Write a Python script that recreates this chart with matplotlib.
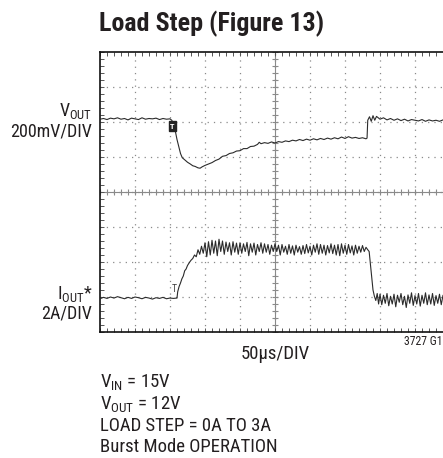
import matplotlib
matplotlib.use("Agg")
import matplotlib.pyplot as plt
import numpy as np

# ---------------- data (scope divisions: x 0..10, y 0..8) ----------------
vout_t = [0.0, 0.1, 0.2, 0.3, 0.4, 0.5, 0.6, 0.7, 0.8, 0.9, 1.0, 1.1, 1.2, 1.3, 1.4, 1.5,
          1.6, 1.7, 1.8, 1.9, 2.0, 2.05, 2.1, 2.15, 2.2, 2.25, 2.3, 2.35, 2.42, 2.5, 2.58,
          2.65, 2.72, 2.8, 2.86, 2.92, 3.0, 3.1, 3.2, 3.3, 3.4, 3.5, 3.6, 3.7, 3.8, 3.9,
          4.0, 4.1, 4.2, 4.3, 4.4, 4.5, 4.55, 4.6, 4.7, 4.8, 4.9, 5.0, 5.1, 5.2, 5.3, 5.4,
          5.5, 5.6, 5.7, 5.8, 5.9, 6.0, 6.1, 6.2, 6.3, 6.4, 6.5, 6.6, 6.7, 6.8, 6.9, 7.0,
          7.1, 7.2, 7.3, 7.4, 7.5, 7.6, 7.63, 7.65, 7.7, 7.75, 7.8, 7.85, 7.9, 8.0, 8.1,
          8.2, 8.3, 8.4, 8.5, 8.6, 8.7, 8.8, 8.9, 9.0, 9.1, 9.2, 9.3, 9.4, 9.5, 9.6, 9.7,
          9.8, 9.9, 10.0]
vout_v = [6.08, 6.10, 6.07, 6.11, 6.09, 6.12, 6.08, 6.10, 6.06, 6.11, 6.09, 6.07, 6.12,
          6.08, 6.10, 6.09, 6.11, 6.07, 6.10, 6.08, 6.09, 6.05, 5.95, 5.75, 5.50, 5.30,
          5.10, 4.98, 4.92, 4.85, 4.80, 4.75, 4.73, 4.69, 4.68, 4.72, 4.76, 4.80, 4.84,
          4.90, 4.94, 5.02, 5.04, 5.10, 5.12, 5.17, 5.18, 5.24, 5.24, 5.30, 5.31, 5.36,
          5.42, 5.38, 5.41, 5.39, 5.43, 5.40, 5.44, 5.42, 5.46, 5.44, 5.48, 5.46, 5.50,
          5.47, 5.51, 5.48, 5.52, 5.49, 5.53, 5.50, 5.54, 5.51, 5.55, 5.52, 5.57, 5.53,
          5.58, 5.54, 5.56, 5.53, 5.55, 5.52, 5.54, 6.05, 6.15, 6.02, 6.18, 6.05, 6.16,
          6.08, 6.12, 6.06, 6.10, 6.05, 6.09, 6.04, 6.08, 6.03, 6.07, 6.05, 6.03, 6.07,
          6.02, 6.06, 6.03, 6.05, 6.02, 6.06, 6.03, 6.05]

iout_t = [0.0, 0.1, 0.2, 0.3, 0.4, 0.5, 0.6, 0.7, 0.8, 0.9, 1.0, 1.1, 1.2, 1.3, 1.4, 1.5,
          1.6, 1.7, 1.8, 1.9, 2.0, 2.1, 2.2, 2.22, 2.26, 2.30, 2.34, 2.38, 2.42, 2.46,
          2.50, 2.55, 2.60, 2.65, 2.70, 2.75, 2.80, 2.85, 2.90, 2.95,
          3.00, 3.05, 3.10, 3.15, 3.20, 3.25, 3.30, 3.35, 3.40, 3.45, 3.50, 3.55, 3.60,
          3.65, 3.70, 3.75, 3.80, 3.85, 3.90, 3.95, 4.00, 4.05, 4.10, 4.15, 4.20, 4.25,
          4.30, 4.35, 4.40, 4.45, 4.50, 4.55, 4.60, 4.65, 4.70, 4.75, 4.80, 4.85, 4.90,
          4.95, 5.00, 5.05, 5.10, 5.15, 5.20, 5.25, 5.30, 5.35, 5.40, 5.45, 5.50, 5.55,
          5.60, 5.65, 5.70, 5.75, 5.80, 5.85, 5.90, 5.95, 6.00, 6.05, 6.10, 6.15, 6.20,
          6.25, 6.30, 6.35, 6.40, 6.45, 6.50, 6.55, 6.60, 6.65, 6.70, 6.75, 6.80, 6.85,
          6.90, 6.95, 7.00, 7.05, 7.10, 7.15, 7.20, 7.25, 7.30, 7.35, 7.40, 7.45, 7.50,
          7.55, 7.60, 7.65, 7.69, 7.72, 7.76, 7.80, 7.84, 7.88, 7.92, 7.96, 8.00, 8.05,
          8.10, 8.15, 8.20, 8.25, 8.30, 8.35, 8.40, 8.45, 8.50, 8.55, 8.60, 8.65, 8.70,
          8.75, 8.80, 8.85, 8.90, 8.95, 9.00, 9.05, 9.10, 9.15, 9.20, 9.25, 9.30, 9.35,
          9.40, 9.45, 9.50, 9.55, 9.60, 9.65, 9.70, 9.75, 9.80, 9.85, 9.90, 9.95, 10.00]
iout_v = [0.95, 0.99, 0.96, 1.00, 0.97, 1.01, 0.98, 0.95, 0.99, 0.96, 1.00, 0.98, 0.95,
          0.99, 0.97, 0.94, 0.98, 0.96, 0.99, 0.95, 0.97, 0.96, 0.97, 1.15, 1.30, 1.40,
          1.52, 1.60, 1.75, 1.80, 1.90, 1.98, 2.05, 2.10, 2.20, 2.15, 2.35, 2.22, 2.45,
          2.25,
          2.55, 2.15, 2.58, 2.20, 2.62, 2.25, 2.60, 2.18, 2.65, 2.30, 2.60, 2.22, 2.57,
          2.30, 2.55, 2.20, 2.58, 2.28, 2.54, 2.22, 2.55, 2.25, 2.52, 2.30, 2.56, 2.18,
          2.52, 2.28, 2.54, 2.20, 2.50, 2.30, 2.55, 2.25, 2.52, 2.28, 2.50, 2.22, 2.48,
          2.30, 2.52, 2.30, 2.48, 2.20, 2.50, 2.28, 2.45, 2.22, 2.50, 2.25, 2.46, 2.20,
          2.48, 2.28, 2.44, 2.22, 2.47, 2.24, 2.50, 2.26, 2.45, 2.20, 2.48, 2.28, 2.52,
          2.22, 2.50, 2.25, 2.48, 2.20, 2.47, 2.26, 2.52, 2.24, 2.48, 2.20, 2.50, 2.18,
          2.52, 2.25, 2.48, 2.22, 2.50, 2.26, 2.46, 2.20, 2.48, 2.25, 2.45, 2.28, 2.47,
          2.30, 2.42, 2.35, 2.30, 2.00, 1.60, 1.20, 1.02, 0.90, 1.10, 0.80, 1.08, 0.78,
          1.05, 0.82, 1.10, 0.75, 1.02, 0.80, 1.08, 0.72, 1.05, 0.85, 1.10, 0.78, 1.02,
          0.70, 1.06, 0.82, 1.12, 0.76, 1.04, 0.80, 1.10, 0.74, 1.05, 0.82, 1.12, 0.78,
          1.06, 0.80, 1.10, 0.76, 1.04, 0.82, 1.08, 0.78, 1.05, 0.84, 1.10, 0.80, 1.02]

title_text = "Load Step (Figure 13)"
ch1_label = ["V$_{\\rm OUT}$", "200mV/DIV"]
ch2_label = ["I$_{\\rm OUT}$*", "2A/DIV"]
xscale_label = "50\u00b5s/DIV"
fig_code = "3727 G17"
conditions = ["V$_{\\rm IN}$ = 15V", "V$_{\\rm OUT}$ = 12V", "LOAD STEP = 0A TO 3A",
              "Burst Mode OPERATION"]
n_xdiv, n_ydiv = 10, 8

# ---------------- style ----------------
FONT = ["Roboto Condensed", "Liberation Sans", "DejaVu Sans"]
plt.rcParams["font.family"] = FONT
plt.rcParams["font.stretch"] = "condensed"
plt.rcParams["mathtext.fontset"] = "custom"
plt.rcParams["mathtext.rm"] = "Roboto Condensed"
plt.rcParams["mathtext.it"] = "Roboto Condensed"
plt.rcParams["mathtext.bf"] = "Roboto Condensed:bold"

W, H = 443, 458
DPI = 100
fig = plt.figure(figsize=(W / DPI, H / DPI), dpi=DPI)

def fx(px):
    return px / W

def fy(py):
    return 1 - py / H

left, top, right, bottom = 100, 52, 450, 332
ax = fig.add_axes([fx(left), fy(bottom), (right - left) / W, (bottom - top) / H])
ax.set_xlim(0, n_xdiv)
ax.set_ylim(0, n_ydiv)

grid_col = "#8a8a8a"
for gx in range(1, n_xdiv):
    ax.axvline(gx, color=grid_col, lw=0.9, ls=(0, (1, 4.04)), zorder=1)
for gy in range(1, n_ydiv):
    ax.axhline(gy, color=grid_col, lw=0.9, ls=(0, (1, 4.04)), zorder=1)
ax.axvline(n_xdiv / 2, color=grid_col, lw=0.8, zorder=1)
ax.axhline(n_ydiv / 2, color=grid_col, lw=0.8, zorder=1)
ticks_x = np.arange(0, n_xdiv + 0.01, 0.2)
ticks_y = np.arange(0, n_ydiv + 0.01, 0.2)
ax.plot(ticks_x, np.full_like(ticks_x, n_ydiv / 2), ls="none", marker="|", ms=4,
        mew=0.8, color=grid_col, zorder=1)
ax.plot(np.full_like(ticks_y, n_xdiv / 2), ticks_y, ls="none", marker="_", ms=4,
        mew=0.8, color=grid_col, zorder=1)

trace_col = "#2b2b2b"
ax.plot(vout_t, vout_v, color=trace_col, lw=0.8, zorder=3)
ax.plot(iout_t, iout_v, color=trace_col, lw=0.8, zorder=3)

ax.text(2.07, 5.88, "T", fontsize=6, color="white", ha="center", va="center",
        fontweight="bold", zorder=5,
        bbox=dict(boxstyle="square,pad=0.15", fc="#222222", ec="#222222"))
ax.text(2.12, 1.22, "T", fontsize=7, color="#444444", ha="center", va="center", zorder=4)

for s in ax.spines.values():
    s.set_color("#111111")
    s.set_linewidth(1.2)
ax.set_xticks(range(0, n_xdiv + 1))
ax.set_yticks(range(0, n_ydiv + 1))
ax.set_xticks(ticks_x, minor=True)
ax.set_yticks(ticks_y, minor=True)
ax.tick_params(which="both", direction="in", length=3, width=0.7, color="#555555",
               top=True, right=True, labelbottom=False, labelleft=False)

txt_col = "#231f20"
fig.text(fx(212), fy(31), title_text, ha="center", va="baseline", fontsize=18.7,
         fontweight="bold", color=txt_col)
fig.text(fx(92), fy(116), ch1_label[0], ha="right", va="baseline", fontsize=13,
         color=txt_col)
fig.text(fx(92), fy(137), ch1_label[1], ha="right", va="baseline", fontsize=13,
         color=txt_col)
fig.text(fx(93), fy(299), ch2_label[0], ha="right", va="baseline", fontsize=13,
         color=txt_col)
fig.text(fx(92), fy(318), ch2_label[1], ha="right", va="baseline", fontsize=13,
         color=txt_col)
fig.text(fx(275), fy(359), xscale_label, ha="center", va="baseline", fontsize=13.5,
         color=txt_col)
fig.text(fx(404), fy(345), fig_code, ha="left", va="baseline", fontsize=8.5,
         color=txt_col)
cond_base = [387, 409, 431, 452]
for yb, line in zip(cond_base, conditions):
    fig.text(fx(100), fy(yb), line, ha="left", va="baseline", fontsize=13.5,
             color=txt_col)

fig.savefig("out.png", dpi=DPI)
